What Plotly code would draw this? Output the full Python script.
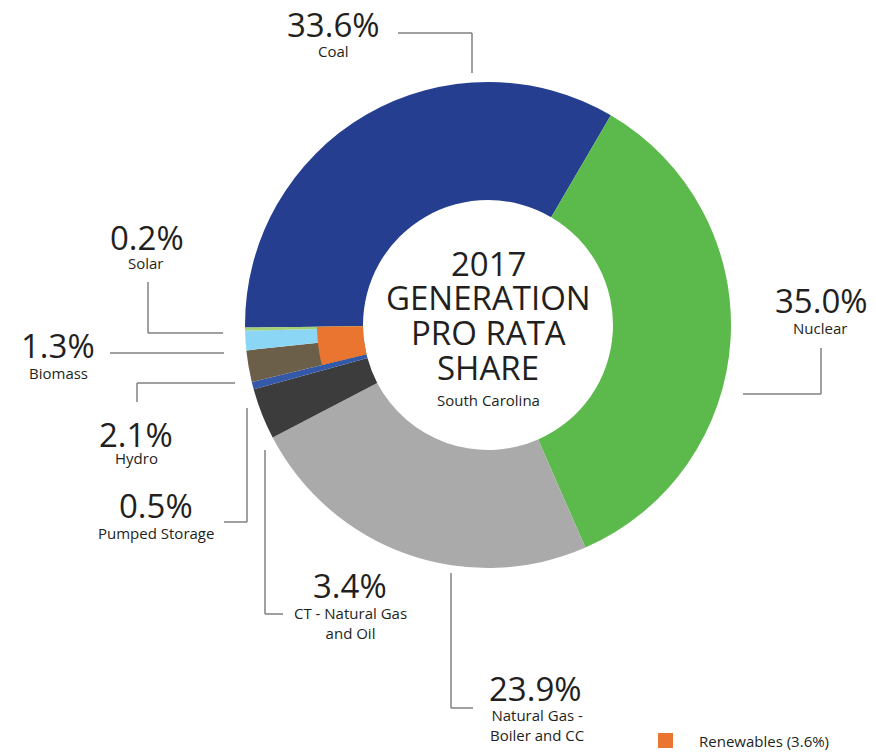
import plotly.graph_objects as go

# 2017 generation pro rata share, South Carolina (percent)
sources = ['Coal', 'Nuclear', 'Natural Gas -<br>Boiler and CC', 'CT - Natural Gas<br>and Oil',
           'Pumped Storage', 'Hydro', 'Biomass', 'Solar']
shares = [33.6, 35.0, 23.9, 3.4, 0.5, 2.1, 1.3, 0.2]
colors = ['#253e90', '#5bba4b', '#a9aaa9', '#3c3c3c', '#3459a8', '#6b5f49', '#8cd6f5', '#a4cf72']

renewables = ['Hydro', 'Biomass', 'Solar']
renewables_share = 3.6

W, H = 876, 755
CX, CY = 488, 325          # donut centre in pixels
R_OUT, R_IN, R_REN = 243, 125, 171
TEXT = '#231f20'
LINE = '#808080'
FONT = 'Open Sans'


def px(x):
    return x / W


def py(y):
    return 1 - y / H


def dom(r):
    return dict(x=[px(CX - r), px(CX + r)], y=[py(CY + r), py(CY - r)])


start = -90.6  # first slice (Coal) starts just below 9 o'clock

fig = go.Figure()
fig.add_trace(go.Pie(
    labels=[s.replace('<br>', ' ') for s in sources], values=shares,
    marker=dict(colors=colors, line=dict(width=0)),
    hole=R_IN / R_OUT, sort=False, direction='clockwise', rotation=start,
    textinfo='none', hoverinfo='label+percent', showlegend=False, domain=dom(R_OUT)))

# inner orange band over the renewable slices
fig.add_trace(go.Pie(
    labels=['Renewables', 'Other'], values=[renewables_share, 100 - renewables_share],
    marker=dict(colors=['#e97530', 'rgba(0,0,0,0)'], line=dict(width=0)),
    hole=R_IN / R_REN, sort=False, direction='clockwise',
    rotation=start - renewables_share * 3.6,
    textinfo='none', hoverinfo='skip', showlegend=False, domain=dom(R_REN)))

# label positions (pct centre, name centre) and leader lines, in pixels
label_pos = [
    ((333, 24), (333, 51)),
    ((821, 300), (820, 328)),
    ((535, 688), (537, 725)),
    ((350, 585), (350, 623)),
    ((156, 505), (156, 533)),
    ((136, 434), (136, 458)),
    ((58, 345), (58, 373)),
    ((147, 237), (146, 263)),
]
leaders = [
    [(398, 33), (472, 33), (472, 73)],
    [(821, 348), (821, 394), (743, 394)],
    [(451, 573), (451, 708), (473, 708)],
    [(265, 450), (265, 614), (283, 614)],
    [(247, 408), (247, 522), (224, 522)],
    [(137, 402), (137, 383), (235, 383)],
    [(110, 353), (224, 353)],
    [(148, 282), (148, 333), (223, 333)],
]

annotations = []
for name, val, (p1, p2) in zip(sources, shares, label_pos):
    annotations.append(dict(x=px(p1[0]), y=py(p1[1]), text=f'{val:.1f}%', font=dict(size=33, color=TEXT)))
    annotations.append(dict(x=px(p2[0]), y=py(p2[1]), text=name, font=dict(size=15, color=TEXT)))

# centre title
title_lines = [('2017', 263), ('GENERATION', 297), ('PRO RATA', 332), ('SHARE', 367)]
for t, y in title_lines:
    annotations.append(dict(x=px(CX), y=py(y), text=t, font=dict(size=33, color=TEXT)))
annotations.append(dict(x=px(CX), y=py(400), text='South Carolina', font=dict(size=15, color=TEXT)))

# legend entry
annotations.append(dict(x=px(697), y=py(741), text=f'Renewables ({renewables_share}%)', xanchor='left',
                        font=dict(size=15, color=TEXT)))

for a in annotations:
    a.update(xref='paper', yref='paper', showarrow=False, yanchor='middle')
    a.setdefault('xanchor', 'center')

shapes = []
for pts in leaders:
    for (x0, y0), (x1, y1) in zip(pts[:-1], pts[1:]):
        shapes.append(dict(type='line', xref='paper', yref='paper', x0=px(x0), y0=py(y0), x1=px(x1), y1=py(y1),
                           line=dict(color=LINE, width=1.5)))
shapes.append(dict(type='rect', xref='paper', yref='paper', x0=px(658), y0=py(748), x1=px(673), y1=py(733),
                   fillcolor='#e97530', line=dict(width=0)))

fig.update_layout(
    width=W, height=H,
    margin=dict(l=0, r=0, t=0, b=0),
    paper_bgcolor='white',
    font=dict(family=FONT, color=TEXT),
    annotations=annotations,
    shapes=shapes,
)

# drop the default page margin so the figure sits at the window's corner
fig.write_html('out.html', config={'displayModeBar': False},
               post_script="document.body.style.margin='0';")
